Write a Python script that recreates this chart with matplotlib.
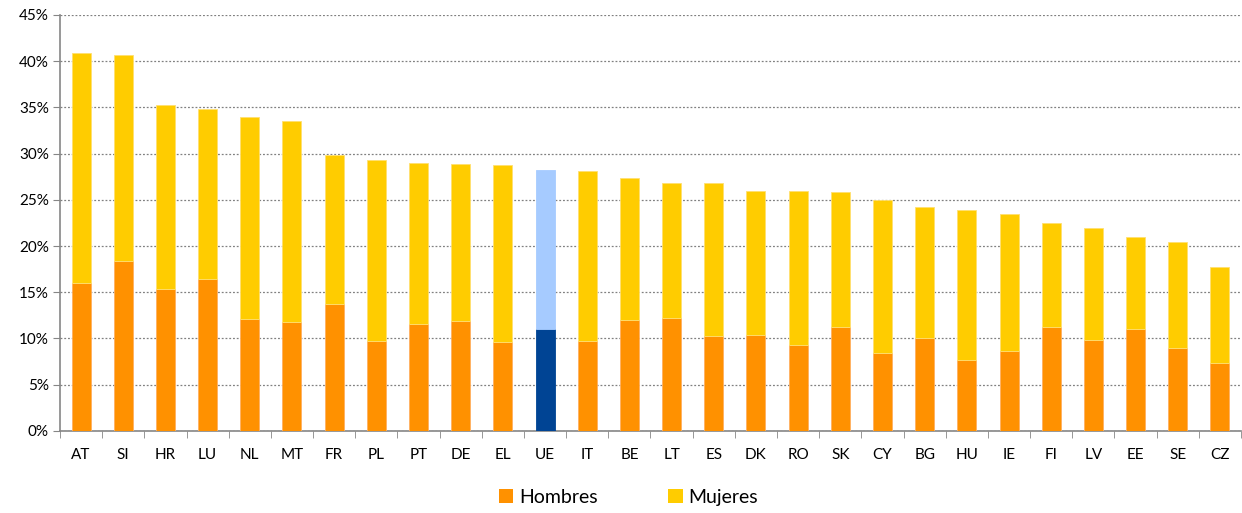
import matplotlib.pyplot as plt
import numpy as np
from matplotlib.ticker import MultipleLocator, FuncFormatter
from matplotlib.patches import Patch

# data (percent)
countries = ["AT", "SI", "HR", "LU", "NL", "MT", "FR", "PL", "PT", "DE", "EL", "UE", "IT", "BE",
             "LT", "ES", "DK", "RO", "SK", "CY", "BG", "HU", "IE", "FI", "LV", "EE", "SE", "CZ"]
total = [40.9, 40.7, 35.2, 34.8, 34.0, 33.5, 29.8, 29.3, 29.0, 28.9, 28.8, 28.2, 28.1, 27.4,
         26.8, 26.8, 26.0, 25.9, 25.8, 25.0, 24.2, 23.9, 23.5, 22.5, 21.9, 21.0, 20.4, 17.7]
hombres = [16.0, 18.4, 15.4, 16.4, 12.1, 11.8, 13.7, 9.7, 11.6, 11.9, 9.6, 11.0, 9.7, 12.0,
           12.2, 10.3, 10.4, 9.3, 11.2, 8.4, 10.0, 7.7, 8.6, 11.2, 9.8, 11.0, 9.0, 7.3]
mujeres = [t - h for t, h in zip(total, hombres)]

c_h, c_m = "#FF9100", "#FFCC00"
c_h_ue, c_m_ue = "#004494", "#A6CBFF"

plt.rcParams['font.family'] = ['Lato', 'DejaVu Sans']

fig = plt.figure(figsize=(12.42, 5.13), dpi=100)
ax = fig.add_axes([0.0483, 0.16, 0.9509, 0.811])

x = np.arange(len(countries))
col_h = [c_h_ue if c == "UE" else c_h for c in countries]
col_m = [c_m_ue if c == "UE" else c_m for c in countries]
edge_h = ["#004494" if c == "UE" else "#FFB060" for c in countries]
edge_m = ["#A6CBFF" if c == "UE" else "#FFE070" for c in countries]

ax.bar(x, hombres, width=0.45, color=col_h, edgecolor=edge_h, linewidth=0.6, zorder=3)
ax.bar(x, mujeres, bottom=hombres, width=0.45, color=col_m, edgecolor=edge_m, linewidth=0.6, zorder=3)

ax.set_xlim(-0.5, len(countries) - 0.5)
ax.set_ylim(0, 45)
ax.yaxis.set_major_locator(MultipleLocator(5))
ax.yaxis.set_major_formatter(FuncFormatter(lambda v, p: "%d%%" % v))
ax.grid(axis='y', linestyle=(0, (1.5, 1.5)), color='#808080', linewidth=0.9, zorder=0)

# category labels centred, ticks between categories
ax.set_xticks(x)
ax.set_xticklabels(countries)
ax.set_xticks(np.arange(-0.5, len(countries)), minor=True)
ax.tick_params(axis='x', which='major', length=0, pad=12, labelsize=11, colors='#000000')
ax.tick_params(axis='x', which='minor', length=5, color='#868686', direction='out')
ax.tick_params(axis='y', length=5, color='#868686', labelsize=11, pad=3)

for s in ['top', 'right']:
    ax.spines[s].set_visible(False)
for s in ['left', 'bottom']:
    ax.spines[s].set_color('#868686')
    ax.spines[s].set_linewidth(1.2)

handles = [Patch(facecolor=c_h, label="Hombres"), Patch(facecolor=c_m, label="Mujeres")]
fig.legend(handles=handles, loc='center', bbox_to_anchor=(0.506, 0.03), ncol=2, frameon=False,
           fontsize=14, handlelength=0.75, handleheight=0.75, handletextpad=0.3, columnspacing=3.6)

fig.savefig("out.png", dpi=100)
